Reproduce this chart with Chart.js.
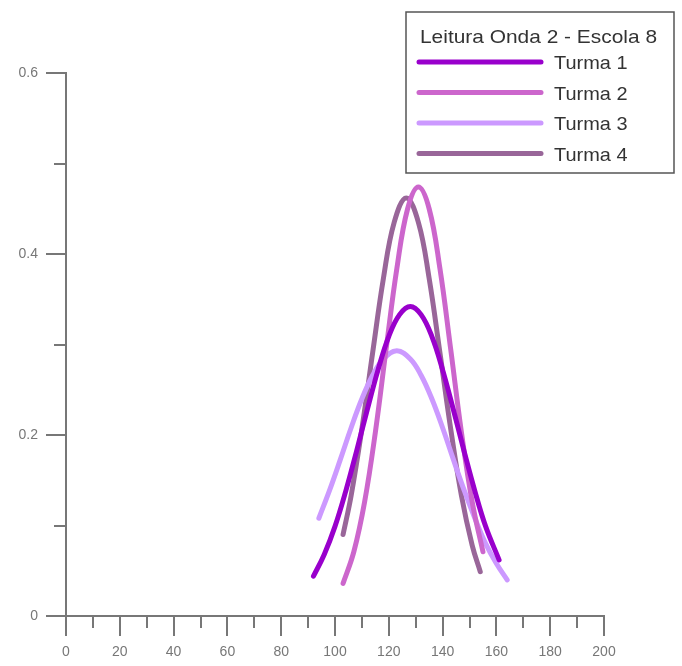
<!DOCTYPE html>
<html>
<head>
<meta charset="utf-8">
<script src="https://cdn.jsdelivr.net/npm/chart.js@4.4.0/dist/chart.umd.min.js"></script>
<style>
  html, body { margin: 0; padding: 0; background: #fff; }
</style>
</head>
<body>
<canvas id="LineChart" width="682" height="666"></canvas>
<script>
const legendTitle = "Leitura Onda 2 - Escola 8";
const seriesNames = ["Turma 1", "Turma 2", "Turma 3", "Turma 4"];
const seriesColors = ["#9900cc", "#cc66cc", "#cc99ff", "#996699"];

// values
const turma1X = [92, 96, 100, 104, 108, 112, 116, 120, 124, 128, 132, 136, 140, 144, 148, 152, 156, 161];
const turma1Y = [0.044, 0.068, 0.099, 0.138, 0.182, 0.228, 0.272, 0.309, 0.333, 0.342, 0.333, 0.309, 0.272, 0.228, 0.182, 0.138, 0.099, 0.062];

const turma2X = [103, 107, 111, 115, 119, 123, 127, 131, 135, 139, 143, 147, 151, 155];
const turma2Y = [0.036, 0.071, 0.126, 0.203, 0.295, 0.384, 0.450, 0.474, 0.450, 0.384, 0.295, 0.203, 0.126, 0.071];

const turma3X = [94, 98, 102, 106, 110, 114, 118, 123, 128, 132, 136, 140, 144, 148, 152, 156, 160, 164];
const turma3Y = [0.108, 0.139, 0.173, 0.208, 0.240, 0.266, 0.284, 0.293, 0.284, 0.266, 0.240, 0.208, 0.173, 0.139, 0.108, 0.080, 0.058, 0.040];

const turma4X = [103, 106, 110, 114, 118, 122, 126.5, 131, 135, 139, 143, 147, 151, 154];
const turma4Y = [0.090, 0.133, 0.207, 0.291, 0.373, 0.435, 0.462, 0.435, 0.373, 0.291, 0.207, 0.133, 0.078, 0.049];

const xTickValues = [0, 10, 20, 30, 40, 50, 60, 70, 80, 90, 100, 110, 120, 130, 140, 150, 160, 170, 180, 190, 200];
const yTickValues = [0, 0.1, 0.2, 0.3, 0.4, 0.5, 0.6];

const seriesX = [turma1X, turma2X, turma3X, turma4X];
const seriesY = [turma1Y, turma2Y, turma3Y, turma4Y];

function toPoints(xs, ys) {
  return xs.map((x, i) => ({ x: x, y: ys[i] }));
}

// tick marks: long ones on labelled values, short ones in between
const axisTicks = {
  id: "axisTicks",
  afterDraw(chart) {
    const ctx = chart.ctx;
    const xs = chart.scales.x;
    const ys = chart.scales.y;
    const area = chart.chartArea;
    ctx.save();
    ctx.strokeStyle = "#777";
    ctx.lineWidth = 2;
    ctx.beginPath();
    xTickValues.forEach((v) => {
      const px = Math.round(xs.getPixelForValue(v));
      const len = v % 20 === 0 ? 20 : 12;
      ctx.moveTo(px, area.bottom);
      ctx.lineTo(px, area.bottom + len);
    });
    yTickValues.forEach((v, i) => {
      const py = Math.round(ys.getPixelForValue(v));
      const len = i % 2 === 0 ? 20 : 12;
      ctx.moveTo(area.left, py);
      ctx.lineTo(area.left - len, py);
    });
    ctx.stroke();
    ctx.restore();
  },
};

function stretchText(ctx, text, x, y, sx) {
  ctx.save();
  ctx.translate(x, y);
  ctx.scale(sx, 1);
  ctx.fillText(text, 0, 0);
  ctx.restore();
}

// boxed legend in the top right corner
const boxLegend = {
  id: "boxLegend",
  afterDraw(chart) {
    const ctx = chart.ctx;
    ctx.save();
    ctx.strokeStyle = "#555";
    ctx.lineWidth = 1.5;
    ctx.strokeRect(406, 12, 268, 161);
    ctx.fillStyle = "#333";
    ctx.font = "19px 'Liberation Sans', Arial, sans-serif";
    ctx.textBaseline = "alphabetic";
    stretchText(ctx, legendTitle, 420, 43, 1.1);
    chart.data.datasets.forEach((ds, i) => {
      const rowY = 62 + i * 30.5;
      ctx.strokeStyle = ds.borderColor;
      ctx.lineWidth = 5;
      ctx.lineCap = "round";
      ctx.beginPath();
      ctx.moveTo(419, rowY);
      ctx.lineTo(541, rowY);
      ctx.stroke();
      stretchText(ctx, ds.label, 554, rowY + 7, 1.05);
    });
    ctx.restore();
  },
};

const ctx = document.getElementById("LineChart").getContext("2d");
const LineChart = new Chart(ctx, {
  type: "line",
  data: {
    datasets: seriesNames.map((name, i) => ({
      label: name,
      data: toPoints(seriesX[i], seriesY[i]),
      borderColor: seriesColors[i],
      backgroundColor: seriesColors[i],
      borderWidth: 5,
      borderCapStyle: "round",
      pointRadius: 0,
      tension: 0.4,
      fill: false,
    })),
  },
  options: {
    responsive: false,
    animation: false,
    layout: { padding: { top: 73, right: 78, left: 0, bottom: 0 } },
    plugins: { legend: { display: false }, tooltip: { enabled: false } },
    scales: {
      x: {
        type: "linear",
        min: 0,
        max: 200,
        afterFit: (scale) => { scale.height = 50; },
        grid: { display: false },
        border: { display: true, color: "#777", width: 2 },
        ticks: {
          stepSize: 20,
          padding: 20,
          color: "#777",
          font: { family: "'Liberation Sans', Arial, sans-serif", size: 14 },
          maxRotation: 0,
        },
      },
      y: {
        min: 0,
        max: 0.6,
        afterFit: (scale) => { scale.width = 66; },
        grid: { display: false },
        border: { display: true, color: "#777", width: 2 },
        ticks: {
          stepSize: 0.2,
          padding: 20,
          color: "#777",
          font: { family: "'Liberation Sans', Arial, sans-serif", size: 14 },
        },
      },
    },
  },
  plugins: [axisTicks, boxLegend],
});
</script>
</body>
</html>
